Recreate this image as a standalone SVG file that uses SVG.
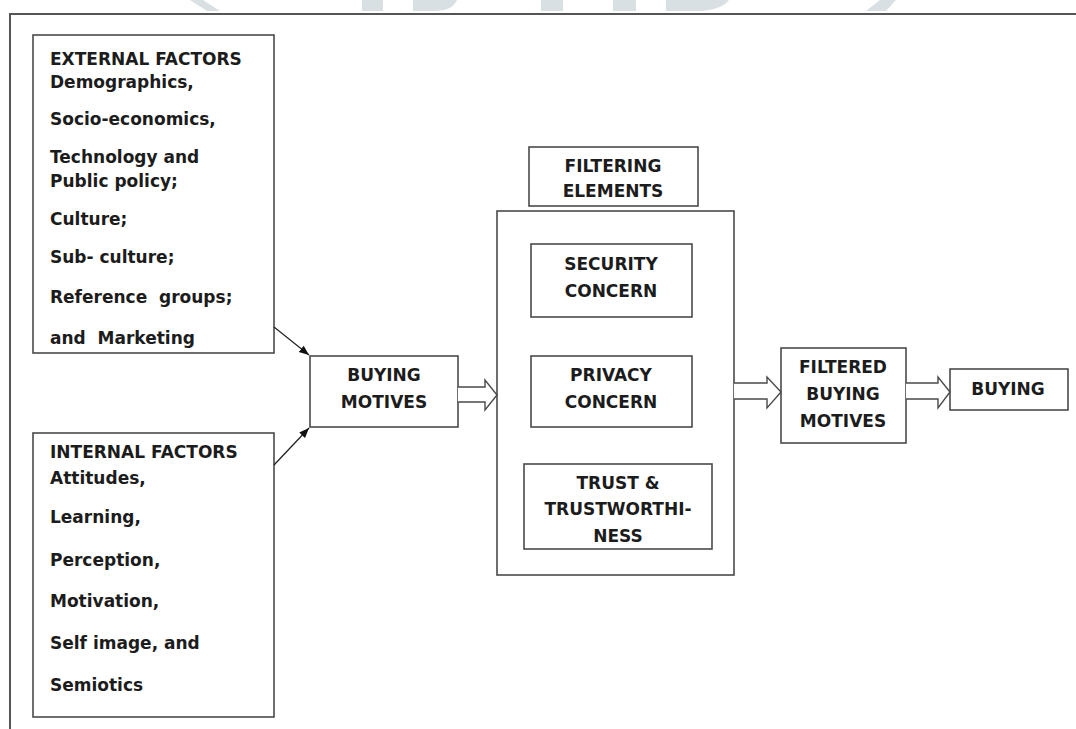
<svg xmlns="http://www.w3.org/2000/svg" width="1076" height="729" viewBox="0 0 1076 729">
<style>
.bx{fill:#fff;stroke:#4a4a4a;stroke-width:1.6}
.t{font-family:"DejaVu Sans","Liberation Sans",sans-serif;font-weight:bold;font-size:17px;fill:#1c1c1c;white-space:pre}
.c{text-anchor:middle}
.ln{stroke:#222;stroke-width:1.3;fill:none}
.ba{fill:#fff;stroke:#4a4a4a;stroke-width:1.4;stroke-linejoin:miter}
.wm{fill:#d9e0e3}
</style>
<defs>
<marker id="ah" viewBox="0 0 10 10" refX="10" refY="5" markerWidth="10" markerHeight="10" markerUnits="userSpaceOnUse" orient="auto">
<path d="M0,1 L10,5 L0,9 Z" fill="#111"/>
</marker>
</defs>
<rect width="1076" height="729" fill="#fff"/>
<g id="watermark">
<polygon class="wm" points="190,0 203,0 220,11 207,11"/>
<rect class="wm" x="362" y="0" width="21" height="11"/>
<path class="wm" d="M413,0 H457 Q452,11 435,11 H413 Z"/>
<rect class="wm" x="541" y="0" width="22" height="11"/>
<rect class="wm" x="613" y="0" width="23" height="11"/>
<path class="wm" d="M666,0 H729 Q720,12 690,11 H666 Z"/>
<polygon class="wm" points="880,0 896,0 886,11 866,11"/>
</g>
<path d="M10,729 V14 H1076" fill="none" stroke="#555" stroke-width="2"/>
<g id="external">
<rect class="bx" x="33" y="35" width="241" height="318"/>
<text class="t" x="50" y="65">EXTERNAL FACTORS</text>
<text class="t" x="50" y="88">Demographics,</text>
<text class="t" x="50" y="125">Socio-economics,</text>
<text class="t" x="50" y="163">Technology and</text>
<text class="t" x="50" y="187">Public policy;</text>
<text class="t" x="50" y="225">Culture;</text>
<text class="t" x="50" y="263">Sub- culture;</text>
<text class="t" x="50" y="303">Reference  groups;</text>
<text class="t" x="50" y="344">and  Marketing</text>
</g>
<g id="internal">
<rect class="bx" x="33" y="433" width="241" height="284"/>
<text class="t" x="50" y="458">INTERNAL FACTORS</text>
<text class="t" x="50" y="484">Attitudes,</text>
<text class="t" x="50" y="523">Learning,</text>
<text class="t" x="50" y="566">Perception,</text>
<text class="t" x="50" y="607">Motivation,</text>
<text class="t" x="50" y="649">Self image, and</text>
<text class="t" x="50" y="691">Semiotics</text>
</g>
<g id="buying-motives">
<rect class="bx" x="310" y="356" width="148" height="71"/>
<text class="t c" x="384" y="381">BUYING</text>
<text class="t c" x="384" y="408">MOTIVES</text>
</g>
<g id="filter-box">
<rect class="bx" x="497" y="211" width="237" height="364"/>
</g>
<g id="filtering-elements">
<rect class="bx" x="529" y="147" width="169" height="59"/>
<text class="t c" x="613" y="172">FILTERING</text>
<text class="t c" x="613" y="197">ELEMENTS</text>
</g>
<g id="security">
<rect class="bx" x="531" y="244" width="161" height="73"/>
<text class="t c" x="611" y="270">SECURITY</text>
<text class="t c" x="611" y="297">CONCERN</text>
</g>
<g id="privacy">
<rect class="bx" x="531" y="356" width="161" height="71"/>
<text class="t c" x="611" y="381">PRIVACY</text>
<text class="t c" x="611" y="408">CONCERN</text>
</g>
<g id="trust">
<rect class="bx" x="524" y="464" width="188" height="85"/>
<text class="t c" x="618" y="489">TRUST &amp;</text>
<text class="t c" x="618" y="515">TRUSTWORTHI-</text>
<text class="t c" x="618" y="542">NESS</text>
</g>
<g id="filtered">
<rect class="bx" x="781" y="348" width="125" height="95"/>
<text class="t c" x="843" y="373">FILTERED</text>
<text class="t c" x="843" y="400">BUYING</text>
<text class="t c" x="843" y="427">MOTIVES</text>
</g>
<g id="buying">
<rect class="bx" x="950" y="369" width="118" height="41"/>
<text class="t c" x="1008" y="395">BUYING</text>
</g>
<g id="connectors">
<line class="ln" x1="274" y1="327" x2="309" y2="355" marker-end="url(#ah)"/>
<line class="ln" x1="274" y1="465" x2="309" y2="428" marker-end="url(#ah)"/>
<path class="ba" d="M458,387 H485 V380 L497,395 L485,410 V402 H458"/>
<path class="ba" d="M734,383 H767 V377 L781,392 L767,408 V399 H734"/>
<path class="ba" d="M906,383 H938 V377 L950,392 L938,408 V399 H906"/>
</g>
</svg>
